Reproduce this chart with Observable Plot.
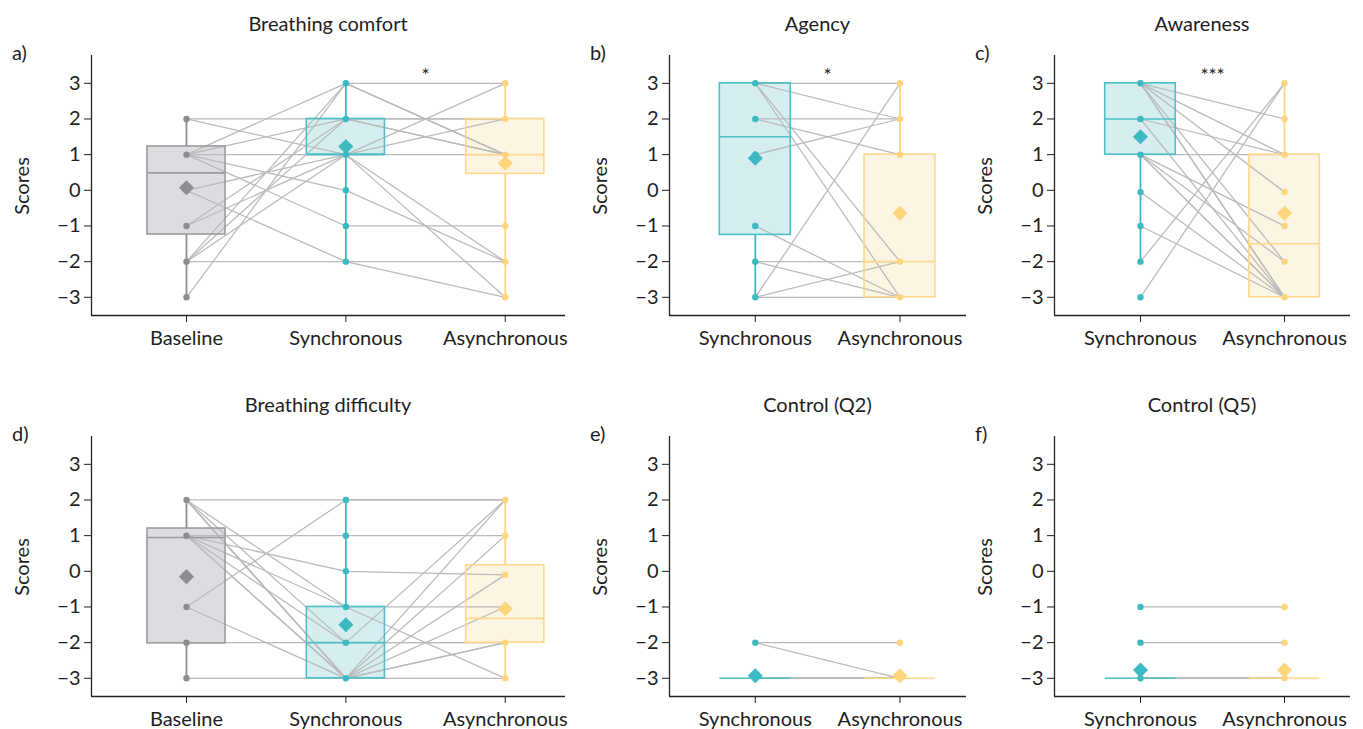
<!DOCTYPE html>
<html>
<head>
<meta charset="utf-8">
<script src="https://cdn.jsdelivr.net/npm/d3@7"></script>
<script src="https://cdn.jsdelivr.net/npm/@observablehq/plot@0.6"></script>
<style>
  html, body { margin: 0; padding: 0; background: #fff; }
  #root { position: relative; width: 1363px; height: 729px; overflow: hidden; font-family: Lato, "Noto Sans", sans-serif; color: #1e1e1e; }
  .panel { position: absolute; }
  .title { position: absolute; font-size: 20px; transform: translate(-50%, -50%); white-space: nowrap; }
  .letter { position: absolute; font-size: 20px; transform: translate(0, -50%); }
  .ylab { position: absolute; font-size: 20px; transform: translate(-50%, -50%) rotate(-90deg); white-space: nowrap; }
</style>
</head>
<body>
<div id="root"></div>
<script>
// ---------- categories ----------
const conds3 = ["Baseline", "Synchronous", "Asynchronous"];
const conds2 = ["Synchronous", "Asynchronous"];
const yTicks = [-3, -2, -1, 0, 1, 2, 3];
const panelTitles = ["Breathing comfort", "Agency", "Awareness", "Breathing difficulty", "Control (Q2)", "Control (Q5)"];
const panelLetters = ["a)", "b)", "c)", "d)", "e)", "f)"];

// ---------- subject scores (one entry per participant) ----------
const comfortBase  = [2, 2, 1, 1, 1, 1, 1, 0, 0, -1, -1, -2, -2, -2, -2, -3];
const comfortSync  = [2, 1, 1, 3, 2, 0, -1, -2, 1, 2, 1, -2, 3, 1, 2, 3];
const comfortAsync = [2, 1, 2, 3, 1, -2, -1, -3, -3, 1, -2, -2, 1, 3, 2, 1];

const agencySync  = [3, 3, 3, 3, 2, 2, 1, -1, -2, -2, -3, -3, -3];
const agencyAsync = [3, 2, -2, -3, 2, 1, 2, -3, -2, -3, -3, 3, -2];

const awareSync  = [3, 3, 3, 3, 3, 3, 2, 2, 1, 1, 1, 1, 1, -0.05, -1, -2, -3];
const awareAsync = [2, 1, -0.05, -2, -3, -3, 1, -3, 1, -1, -2, -3, -3, -3, -3, 3, 3];

const diffBase  = [2, 2, 2, 2, 2, 1, 1, 1, 1, 1, -1, -1, -2, -3, 2, 1];
const diffSync  = [2, -1, -2, -3, -3, 1, 0, -1, -2, -3, 2, -3, -2, -3, -3, -3];
const diffAsync = [2, -1, -2, 1, -1, 1, -0.1, -3, 2, -2, 2, -0.1, -2, -3, -2, 2];

const q2Sync  = [-2, -2, -3, -3, -3, -3, -3, -3, -3, -3, -3, -3, -3, -3, -3];
const q2Async = [-2, -3, -3, -3, -3, -3, -3, -3, -3, -3, -3, -3, -3, -3, -3];

const q5Sync  = [-1, -2, -3, -3, -3, -3, -3, -3, -3, -3, -3, -3, -3];
const q5Async = [-1, -2, -3, -3, -3, -3, -3, -3, -3, -3, -3, -3, -3];

// ---------- box summaries: [q1, median, q3, mean, whiskerLow, whiskerHigh] ----------
const comfortStats = [[-1.24, 0.49, 1.23, 0.07, -3, 2], [1, 1, 2, 1.23, -2, 3], [0.46, 1, 2, 0.76, -3, 3]];
const agencyStats  = [[-1.25, 1.5, 3, 0.9, -3, 3], [-3, -2, 1, -0.64, -3, 3]];
const awareStats   = [[1, 2, 3, 1.5, -2, 3], [-3, -1.5, 1, -0.64, -3, 3]];
const diffStats    = [[-2.02, 0.95, 1.2, -0.15, -3, 2], [-3, -2, -1, -1.5, -3, 2], [-2, -1.32, 0.17, -1.05, -3, 2]];
const q2Stats      = [[-3, -3, -3, -2.93, -3, -3], [-3, -3, -3, -2.93, -3, -3]];
const q5Stats      = [[-3, -3, -3, -2.77, -3, -3], [-3, -3, -3, -2.77, -3, -3]];

// ---------- significance marks ----------
const comfortSig = [{x: 1.5, label: "*"}];
const agencySig  = [{x: 0.5, label: "*"}];
const awareSig   = [{x: 0.5, label: "***"}];

// ---------- styling ----------
const PALETTE = {
  Baseline:     {dot: "#8d8d91", edge: "#9c9c9f", fill: "#dcdde0"},
  Synchronous:  {dot: "#3cb9c1", edge: "#4dbfc6", fill: "#d6eef0"},
  Asynchronous: {dot: "#fdd57d", edge: "#fcd98b", fill: "#fdf5e3"}
};
const FONT = "Lato, 'Noto Sans', sans-serif";
const Y_DOMAIN = [-3.51, 3.78];
const HALF = 0.245;
const fmt = d => d < 0 ? "\u2212" + Math.abs(d) : String(d);

function makePanel({conds, series, stats, sig, xDomain, width, marginLeft, marginRight}) {
  const n = series[0].length;
  const segs = [];
  for (let s = 0; s < n; s++)
    for (let k = 0; k < conds.length - 1; k++)
      segs.push({x1: k, y1: series[k][s], x2: k + 1, y2: series[k + 1][s]});
  const pts = [];
  conds.forEach((c, k) => {
    Array.from(new Set(series[k])).forEach(v => pts.push({x: k, y: v, c}));
  });
  const st = stats.map((a, k) => ({i: k, c: conds[k], q1: a[0], med: a[1], q3: a[2], mean: a[3], lo: a[4], hi: a[5]}));
  const col = key => d => PALETTE[d.c][key];
  const marks = [
    Plot.rect(st.filter(d => d.q3 > d.q1), {x1: d => d.i - HALF, x2: d => d.i + HALF, y1: "q1", y2: "q3", fill: col("fill")}),
    Plot.link(segs, {x1: "x1", y1: "y1", x2: "x2", y2: "y2", stroke: "#bababa", strokeWidth: 1.25}),
    Plot.rect(st.filter(d => d.q3 > d.q1), {x1: d => d.i - HALF, x2: d => d.i + HALF, y1: "q1", y2: "q3", fill: "none", stroke: col("edge"), strokeWidth: 1.6}),
    Plot.ruleY(st, {y: "med", x1: d => d.i - HALF, x2: d => d.i + HALF, stroke: col("edge"), strokeWidth: 1.6}),
    Plot.ruleX(st.filter(d => d.lo < d.q1), {x: "i", y1: "lo", y2: "q1", stroke: col("dot"), strokeWidth: 1.8}),
    Plot.ruleX(st.filter(d => d.hi > d.q3), {x: "i", y1: "q3", y2: "hi", stroke: col("dot"), strokeWidth: 1.8}),
    Plot.dot(pts, {x: "x", y: "y", r: 3.2, fill: col("dot")}),
    Plot.dot(st, {x: "i", y: "mean", symbol: "diamond2", r: 6.8, fill: col("dot")}),
    Plot.ruleX([xDomain[0]], {stroke: "#222", strokeWidth: 1.3}),
    Plot.ruleY([Y_DOMAIN[0]], {stroke: "#222", strokeWidth: 1.3}),
    Plot.axisY({ticks: yTicks, tickFormat: fmt, tickSize: 7, tickPadding: 4, label: null, fontSize: 20}),
    Plot.axisX({ticks: conds.map((c, i) => i), tickFormat: i => conds[i], tickSize: 7, tickPadding: 8, label: null, fontSize: 20})
  ];
  if (sig) marks.push(Plot.text(sig, {x: "x", y: () => 3.2, text: "label", fontSize: 19, fill: "#222"}));
  return Plot.plot({
    width, height: 365, marginTop: 55, marginBottom: 50, marginLeft, marginRight,
    x: {type: "linear", domain: xDomain, axis: null},
    y: {type: "linear", domain: Y_DOMAIN, axis: null},
    color: {type: "identity"},
    style: {fontFamily: FONT, fontSize: "20px", color: "#1e1e1e", background: "transparent", overflow: "visible"},
    marks
  });
}

const root = document.getElementById("root");
const cols = [
  {left: 0,   width: 580, marginLeft: 91, marginRight: 15, xDomain: [-0.596, 2.378]},
  {left: 580, width: 400, marginLeft: 89, marginRight: 14, xDomain: [-0.593, 1.46]},
  {left: 960, width: 403, marginLeft: 94, marginRight: 13, xDomain: [-0.597, 1.458]}
];
const rows = [0, 381];
const panels = [
  {conds: conds3, series: [comfortBase, comfortSync, comfortAsync], stats: comfortStats, sig: comfortSig},
  {conds: conds2, series: [agencySync, agencyAsync], stats: agencyStats, sig: agencySig},
  {conds: conds2, series: [awareSync, awareAsync], stats: awareStats, sig: awareSig},
  {conds: conds3, series: [diffBase, diffSync, diffAsync], stats: diffStats},
  {conds: conds2, series: [q2Sync, q2Async], stats: q2Stats},
  {conds: conds2, series: [q5Sync, q5Async], stats: q5Stats}
];

panels.forEach((p, idx) => {
  const c = cols[idx % 3], top = rows[Math.floor(idx / 3)];
  const svg = makePanel({...p, xDomain: c.xDomain, width: c.width, marginLeft: c.marginLeft, marginRight: c.marginRight});
  const wrap = document.createElement("div");
  wrap.className = "panel";
  wrap.style.left = c.left + "px";
  wrap.style.top = top + "px";
  wrap.appendChild(svg);
  root.appendChild(wrap);

  const axL = c.left + c.marginLeft, axR = c.left + c.width - c.marginRight;
  const t = document.createElement("div");
  t.className = "title";
  t.textContent = panelTitles[idx];
  t.style.left = ((axL + axR) / 2) + "px";
  t.style.top = (top + 23) + "px";
  root.appendChild(t);

  const l = document.createElement("div");
  l.className = "letter";
  l.textContent = panelLetters[idx];
  l.style.left = (axL - 79) + "px";
  l.style.top = (top + 52) + "px";
  root.appendChild(l);

  const y = document.createElement("div");
  y.className = "ylab";
  y.textContent = "Scores";
  y.style.left = (axL - 70) + "px";
  y.style.top = (top + 186) + "px";
  root.appendChild(y);
});
</script>
</body>
</html>
